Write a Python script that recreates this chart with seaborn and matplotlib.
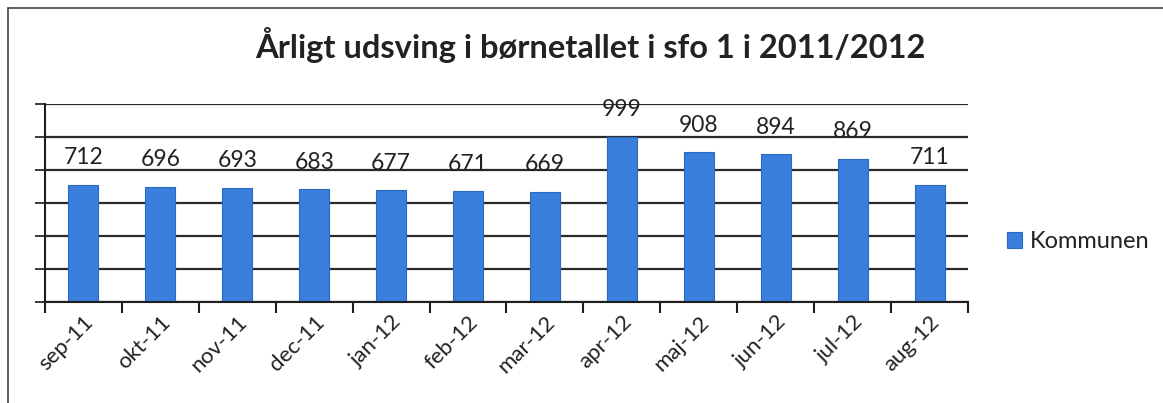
import matplotlib
matplotlib.use("Agg")
import matplotlib.pyplot as plt
import seaborn as sns
import pandas as pd
from matplotlib.lines import Line2D

months = ["sep-11", "okt-11", "nov-11", "dec-11", "jan-12", "feb-12",
          "mar-12", "apr-12", "maj-12", "jun-12", "jul-12", "aug-12"]
values = [712, 696, 693, 683, 677, 671, 669, 999, 908, 894, 869, 711]
series_name = "Kommunen"
title = "Årligt udsving i børnetallet i sfo 1 i 2011/2012"
y_max = 1200
y_step = 200

sns.set_theme(style="white")
plt.rcParams['font.family'] = ['Lato', 'DejaVu Sans']

df = pd.DataFrame({"month": months, "value": values, "series": series_name})

W, H = 1163, 403
fig = plt.figure(figsize=(W / 100, H / 100), dpi=100)
fig.patch.set_facecolor("white")
ax = fig.add_axes([45 / W, 1 - 302 / H, (968 - 45) / W, (302 - 104) / H])

bar_color = "#3a7fdc"
sns.barplot(data=df, x="month", y="value", hue="series", palette=[bar_color],
            saturation=1, width=0.39, dodge=False, edgecolor="#2c68c0",
            linewidth=0.8, ax=ax)

ax.set_xlim(-0.5, len(months) - 0.5)
ax.set_ylim(0, y_max)
ax.set_yticks(range(0, y_max + 1, y_step))
ax.set_yticklabels([])
ax.yaxis.grid(True, color="#2a2a2a", linewidth=1.6)
ax.set_axisbelow(True)
ax.set_xlabel("")
ax.set_ylabel("")

for s in ["top", "right"]:
    ax.spines[s].set_visible(False)
for s in ["left", "bottom"]:
    ax.spines[s].set_color("#1e1e1e")
    ax.spines[s].set_linewidth(1.5)

ax.tick_params(axis="y", which="major", direction="out", length=7, width=1.3,
               color="#2a2a2a", left=True)
ax.tick_params(axis="x", which="major", length=0, pad=7)
ax.set_xticks([i - 0.5 for i in range(len(months) + 1)], minor=True)
ax.tick_params(axis="x", which="minor", direction="out", length=8, width=1.5,
               color="#1e1e1e", bottom=True)
ax.set_xticks(range(len(months)))
ax.set_xticklabels(months, rotation=45, ha="right", rotation_mode="anchor",
                   fontsize=16, color="#222222")

for c in ax.containers:
    ax.bar_label(c, padding=12, fontsize=16.5, color="#222222")

leg = ax.legend(loc="center left", bbox_to_anchor=(1007 / W, 1 - 242 / H),
                bbox_transform=fig.transFigure, frameon=False, fontsize=17,
                borderaxespad=0, borderpad=0,
                handlelength=0.65, handleheight=0.65, handletextpad=0.3,
                labelcolor="#222222")

fig.text(590 / W, 1 - 45 / H, title, ha="center", va="center",
         fontsize=23.5, fontweight="bold", color="#222222")

# outer chart border (left and top)
fig.add_artist(Line2D([8 / W, 8 / W], [0, 1 - 8 / H], transform=fig.transFigure,
                      color="#444444", linewidth=1.2))
fig.add_artist(Line2D([8 / W, 1], [1 - 8 / H, 1 - 8 / H], transform=fig.transFigure,
                      color="#444444", linewidth=1.2))

fig.savefig("out.png", dpi=100)
